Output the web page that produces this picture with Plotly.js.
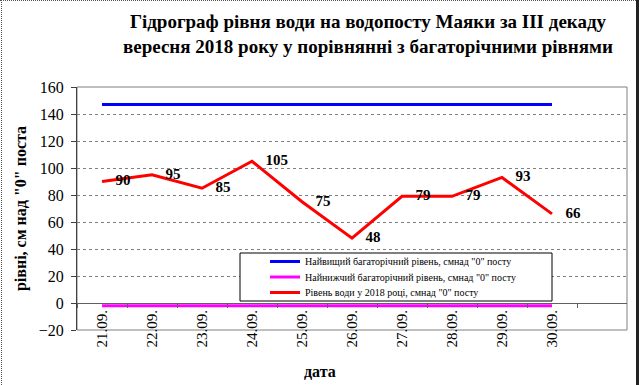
<!DOCTYPE html>
<html>
<head>
<meta charset="utf-8">
<script src="https://cdn.plot.ly/plotly-3.0.1.min.js"></script>
<style>
  html, body { margin: 0; padding: 0; background: #fff; }
  #wrap { position: relative; width: 639px; height: 385px; overflow: hidden; }
  #chart { position: absolute; left: 0; top: 0; width: 639px; height: 385px; }
  .edge { position: absolute; pointer-events: none; }
</style>
</head>
<body>
<div id="wrap">
  <div id="chart"></div>
  <div class="edge" style="left:1px;top:0;width:0;height:385px;border-left:1px dotted #555;"></div>
  <div class="edge" style="left:0;top:0;width:636px;height:0;border-top:1px dotted #555;"></div>
  <div class="edge" style="left:636px;top:0;width:3px;height:385px;background:#222;"></div>
</div>
<script>
// ---- data ----
const dates = ["21.09.", "22.09.", "23.09.", "24.09.", "25.09.", "26.09.", "27.09.", "28.09.", "29.09.", "30.09."];
const highestLevel = [147, 147, 147, 147, 147, 147, 147, 147, 147, 147];
const lowestLevel = [-2, -2, -2, -2, -2, -2, -2, -2, -2, -2];
const level2018 = [90, 95, 85, 105, 75, 48, 79, 79, 93, 66];
const seriesNames = [
  'Найвищий багаторічний рівень, смнад "0" посту',
  'Найнижчий багаторічний рівень, смнад "0" посту',
  'Рівень води у 2018 році, смнад "0" посту'
];
const yTicks = [-20, 0, 20, 40, 60, 80, 100, 120, 140, 160];

const serif = "Liberation Serif";

const traces = [
  { x: dates, y: highestLevel, name: seriesNames[0], type: 'scatter', mode: 'lines',
    line: { color: '#0000ff', width: 3 }, hoverinfo: 'skip', legend: 'legend' },
  { x: dates, y: lowestLevel, name: seriesNames[1], type: 'scatter', mode: 'lines',
    line: { color: '#ff00ff', width: 3 }, hoverinfo: 'skip', legend: 'legend2' },
  { x: dates, y: level2018, name: seriesNames[2], type: 'scatter', mode: 'lines+markers+text',
    line: { color: '#ff0000', width: 3 },
    marker: { size: 20, color: 'rgba(0,0,0,0)' },
    text: level2018.map(String), textposition: 'middle right',
    textfont: { family: serif, size: 15, color: '#000', weight: 'bold' },
    hoverinfo: 'skip', legend: 'legend3' }
];

function legendAt(rowCenterPx) {
  return {
    x: (265 - 77) / 550, y: (330 - (rowCenterPx - 15)) / 243, xanchor: 'left', yanchor: 'top',
    bgcolor: 'rgba(0,0,0,0)', borderwidth: 0,
    font: { family: serif, size: 10, color: '#000' },
    itemwidth: 30
  };
}

const layout = {
  width: 639, height: 385,
  margin: { l: 77, r: 12, t: 87, b: 55 },
  paper_bgcolor: '#fff', plot_bgcolor: '#fff',
  font: { family: serif, color: '#000' },
  showlegend: true,
  xaxis: {
    type: 'category', categoryorder: 'array', categoryarray: dates,
    range: [-0.5, 10.5],
    anchor: 'free', position: 20 / 180,
    showline: true, linecolor: '#606060', linewidth: 1,
    ticks: 'outside', tickson: 'boundaries', ticklen: 4, tickcolor: '#606060',
    tickangle: -90, tickfont: { family: serif, size: 15, color: '#000' },
    showgrid: false, zeroline: false, fixedrange: true
  },
  yaxis: {
    range: [-20, 160], tickvals: yTicks,
    showline: true, linecolor: '#404040', linewidth: 1,
    ticks: 'outside', ticklen: 5, tickcolor: '#404040',
    tickfont: { family: serif, size: 16, color: '#000' },
    ticklabelstandoff: 4,
    showgrid: true, gridcolor: '#808080', griddash: 'dot', gridwidth: 1,
    zeroline: false, fixedrange: true,
    title: { text: '<b>рівні, см над "0" поста</b>', font: { family: serif, size: 16, color: '#000' }, standoff: 8 }
  },
  legend: legendAt(262),
  legend2: legendAt(277.5),
  legend3: legendAt(293),
  shapes: [
    { type: 'rect', xref: 'paper', yref: 'paper', x0: 0, x1: 1, y0: 0, y1: 1,
      line: { color: '#808080', width: 1 }, layer: 'between' },
    { type: 'rect', xref: 'paper', yref: 'paper',
      x0: (240 - 77) / 550, x1: (552 - 77) / 550, y0: (330 - 301) / 243, y1: (330 - 253) / 243,
      line: { color: '#000', width: 1 }, fillcolor: '#fff', layer: 'above' }
  ],
  annotations: [
    { text: '<b>Гідрограф рівня води на водопосту Маяки за ІІІ декаду<br>вересня 2018 року у порівнянні з багаторічними рівнями</b>',
      xref: 'paper', yref: 'paper',
      x: (368 - 77) / 550, y: (330 - 9) / 243, xanchor: 'center', yanchor: 'top',
      showarrow: false, align: 'center',
      font: { family: serif, size: 19, color: '#000' } },
    { text: '<b>дата</b>', xref: 'paper', yref: 'paper',
      x: (320 - 77) / 550, y: (330 - 372) / 243, xanchor: 'center', yanchor: 'middle',
      showarrow: false, font: { family: serif, size: 16, color: '#000' } }
  ]
};

Plotly.newPlot('chart', traces, layout, { staticPlot: true, displayModeBar: false });
</script>
</body>
</html>
